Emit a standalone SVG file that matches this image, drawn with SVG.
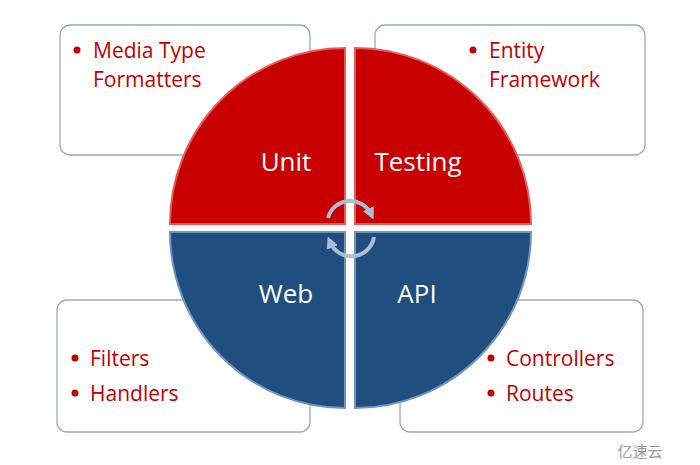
<svg xmlns="http://www.w3.org/2000/svg" width="700" height="465" viewBox="0 0 700 465">
<style>
.box{fill:#fff;stroke:#9aa8ba;stroke-width:1.3}
.red{fill:#c80000;stroke:#e85a5a;stroke-width:2}
.blue{fill:#1f4e7f;stroke:#6f95c0;stroke-width:2}
.t{font-family:"Open Sans","Liberation Sans",sans-serif;font-size:21px;fill:#c00000}
.w{font-family:"Open Sans","Liberation Sans",sans-serif;font-size:26px;fill:#fff}
.arc{fill:none;stroke:#a9bfd6;stroke-width:4}
</style>
<defs><marker id="ah" viewBox="0 0 10 10" refX="5" refY="5" markerWidth="3" markerHeight="3" orient="auto"><path d="M0,0L10,5L0,10z" fill="#a9bfd6"/></marker></defs>
<rect width="700" height="465" fill="#fff"/>
<g id="box-tl"><rect class="box" x="60" y="25" width="250" height="130" rx="10"/>
<circle cx="77" cy="50" r="3.5" fill="#c00000"/><text class="t" x="93" y="58">Media Type</text><text class="t" x="93" y="87">Formatters</text></g>
<g id="box-tr"><rect class="box" x="375" y="25" width="270" height="130" rx="10"/>
<circle cx="473" cy="50" r="3.5" fill="#c00000"/><text class="t" x="489" y="58">Entity</text><text class="t" x="489" y="87">Framework</text></g>
<g id="box-bl"><rect class="box" x="57" y="300" width="253" height="132" rx="10"/>
<circle cx="75" cy="358" r="3.5" fill="#c00000"/><text class="t" x="90" y="366">Filters</text>
<circle cx="75" cy="393" r="3.5" fill="#c00000"/><text class="t" x="90" y="401">Handlers</text></g>
<g id="box-br"><rect class="box" x="400" y="300" width="243" height="132" rx="10"/>
<circle cx="491" cy="358" r="3.5" fill="#c00000"/><text class="t" x="506" y="366">Controllers</text>
<circle cx="491" cy="393" r="3.5" fill="#c00000"/><text class="t" x="506" y="401">Routes</text></g>
<g id="q-unit"><path class="red" d="M345,224H170A175,176 0 0 1 345,48Z"/><text class="w" x="286" y="171" text-anchor="middle">Unit</text></g>
<g id="q-testing"><path class="red" d="M355,224V48A176,176 0 0 1 531,224Z"/><text class="w" x="418" y="171" text-anchor="middle">Testing</text></g>
<g id="q-web"><path class="blue" d="M345,232H170A175,176 0 0 0 345,408Z"/><text class="w" x="286" y="303" text-anchor="middle">Web</text></g>
<g id="q-api"><path class="blue" d="M355,232V408A176,176 0 0 0 531,232Z"/><text class="w" x="417" y="303" text-anchor="middle">API</text></g>
<g id="connectors">
<path class="arc" d="M328,218A23,23 0 0 1 371,214" marker-end="url(#ah)"/>
<path class="arc" d="M374,237A23,23 0 0 1 330,242" marker-end="url(#ah)"/>
</g>
<text x="640" y="457" text-anchor="middle" font-family="Noto Sans CJK SC,sans-serif" font-size="15" fill="#999">亿速云</text>
</svg>
